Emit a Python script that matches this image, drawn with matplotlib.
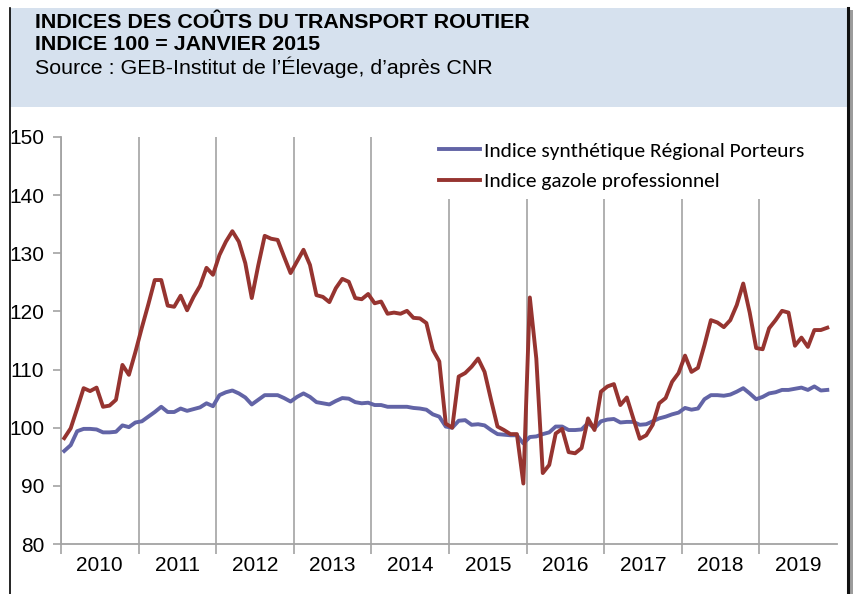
import numpy as np
import matplotlib.pyplot as plt
from matplotlib import font_manager
from matplotlib.patches import Rectangle
from matplotlib.lines import Line2D

# monthly values, Jan 2010 -> Nov 2019 (base 100 = Jan 2015)
years = [str(y) for y in range(2010, 2020)]
synthetique = [
    96.0, 97.0, 99.4, 99.8, 99.8, 99.7, 99.2, 99.2, 99.3, 100.4, 100.1, 100.9,
    101.1, 101.9, 102.7, 103.6, 102.7, 102.7, 103.3, 102.9, 103.2, 103.5, 104.2, 103.7,
    105.6, 106.1, 106.4, 105.9, 105.2, 104.0, 104.8, 105.6, 105.6, 105.6, 105.1, 104.5,
    105.3, 105.9, 105.3, 104.4, 104.2, 104.0, 104.6, 105.1, 105.0, 104.4, 104.2, 104.3,
    103.9, 103.9, 103.6, 103.6, 103.6, 103.6, 103.4, 103.3, 103.1, 102.3, 101.9, 100.2,
    100.0, 101.2, 101.3, 100.5, 100.6, 100.4, 99.6, 98.9, 98.8, 98.7, 98.7, 97.3,
    98.4, 98.5, 98.9, 99.2, 100.2, 100.2, 99.6, 99.6, 99.7, 100.8, 99.9, 101.1,
    101.4, 101.5, 100.9, 101.0, 101.0, 100.5, 100.6, 101.1, 101.6, 101.9, 102.3, 102.6,
    103.4, 103.1, 103.3, 104.9, 105.6, 105.6, 105.5, 105.7, 106.2, 106.8, 105.9, 104.9,
    105.3, 105.9, 106.1, 106.5, 106.5, 106.7, 106.9, 106.5, 107.1, 106.4, 106.5,
]
gazole = [
    98.2, 99.9, 103.3, 106.8, 106.3, 106.9, 103.6, 103.8, 104.8, 110.8, 109.1, 113.0,
    117.2, 121.2, 125.4, 125.4, 121.0, 120.8, 122.7, 120.2, 122.5, 124.4, 127.5, 126.3,
    129.7, 132.0, 133.8, 132.0, 128.3, 122.3, 127.9, 133.0, 132.5, 132.3, 129.4, 126.6,
    128.6, 130.6, 128.0, 122.8, 122.5, 121.6, 124.0, 125.6, 125.1, 122.3, 122.1, 123.0,
    121.4, 121.7, 119.6, 119.8, 119.6, 120.1, 118.9, 118.8, 118.0, 113.4, 111.4, 100.7,
    100.0, 108.8, 109.4, 110.5, 111.9, 109.6, 104.8, 100.2, 99.6, 98.9, 98.9, 90.4,
    122.4, 111.9, 92.2, 93.6, 99.0, 99.8, 95.8, 95.6, 96.5, 101.6, 99.6, 106.2,
    107.1, 107.5, 103.9, 105.2, 101.6, 98.1, 98.7, 100.5, 104.2, 105.1, 107.9, 109.4,
    112.4, 109.6, 110.3, 114.2, 118.5, 118.1, 117.3, 118.5, 121.1, 124.8, 119.8, 113.7,
    113.5, 117.1, 118.5, 120.1, 119.8, 114.1, 115.5, 113.9, 116.8, 116.8, 117.2,
]

installed = {f.name for f in font_manager.fontManager.ttflist}
tick_font = 'Liberation Sans Narrow' if 'Liberation Sans Narrow' in installed else 'Liberation Sans'
tick_size = 16.5 if tick_font.endswith('Narrow') else 15
legend_font = 'Carlito' if 'Carlito' in installed else 'Lato'
legend_size = 15.4 if legend_font == 'Carlito' else 15.3

blue = '#6264A6'
red = '#963430'
grey = '#A3A3A3'

W, H = 854, 594
fig = plt.figure(figsize=(W / 100, H / 100), dpi=100)


def fx(px):
    return px / W


def fy(py):
    return 1 - py / H


# header band and frame
fig.patches.append(Rectangle((fx(10), fy(107)), fx(847) - fx(10), fy(8) - fy(107),
                             transform=fig.transFigure, facecolor='#D6E1EE',
                             edgecolor='none', zorder=0))
fig.add_artist(Line2D([fx(10.5), fx(10.5)], [fy(8), 0], color='black', lw=1.2))
fig.patches.append(Rectangle((fx(850), 0), fx(854) - fx(850), fy(10),
                             transform=fig.transFigure, facecolor='#9C9C9C',
                             edgecolor='none'))
fig.add_artist(Line2D([fx(848.5), fx(848.5)], [fy(8), 0], color='#111111', lw=2.2))

fig.text(fx(35), fy(22), 'INDICES DES COÛTS DU TRANSPORT ROUTIER', fontsize=15.4,
         fontweight='bold', family='Liberation Sans', va='center')
fig.text(fx(35), fy(44), 'INDICE 100 = JANVIER 2015', fontsize=15.4,
         fontweight='bold', family='Liberation Sans', va='center')
fig.text(fx(35), fy(67), 'Source : GEB-Institut de l’Élevage, d’après CNR', fontsize=15.4,
         family='Liberation Sans', va='center')

ax = fig.add_axes([fx(61), fy(544), fx(837) - fx(61), fy(137) - fy(544)])
x = np.arange(len(gazole)) + 0.5
ax.plot(x, synthetique, color=blue, lw=2.8, solid_joinstyle='round',
        label='Indice synthétique Régional Porteurs', zorder=3)
ax.plot(x, gazole, color=red, lw=2.8, solid_joinstyle='round',
        label='Indice gazole professionnel', zorder=3)

nmonths = 12 * len(years)
ax.set_xlim(0, nmonths)
ax.set_ylim(80, 150)
ax.set_yticks(range(80, 151, 10))
ax.set_xticks(np.arange(0, nmonths, 12))
ax.set_xticks(np.arange(6, nmonths, 12), minor=True)
ax.set_xticklabels(years, minor=True)
ax.xaxis.grid(True, which='major', color=grey, lw=1.2, zorder=1)

for side in ['top', 'right']:
    ax.spines[side].set_visible(False)
for side in ['left', 'bottom']:
    ax.spines[side].set_color(grey)
    ax.spines[side].set_linewidth(1.3)

ax.tick_params(axis='x', which='major', length=7.5, width=1.2, color=grey, labelbottom=False)
ax.tick_params(axis='x', which='minor', length=0, pad=8.5, labelsize=tick_size,
               labelfontfamily=tick_font)
ax.tick_params(axis='y', length=6, width=1.2, color=grey, pad=6, labelsize=tick_size,
               labelfontfamily=tick_font)

ax.legend(loc='upper left', bbox_to_anchor=(fx(430), fy(133)), bbox_transform=fig.transFigure,
          frameon=True, facecolor='white', edgecolor='none', framealpha=1, fancybox=False,
          borderpad=0.4, borderaxespad=0, handlelength=1.96, handletextpad=0.15,
          labelspacing=0.59, prop={'family': legend_font, 'size': legend_size})

fig.savefig('out.png', dpi=100)
